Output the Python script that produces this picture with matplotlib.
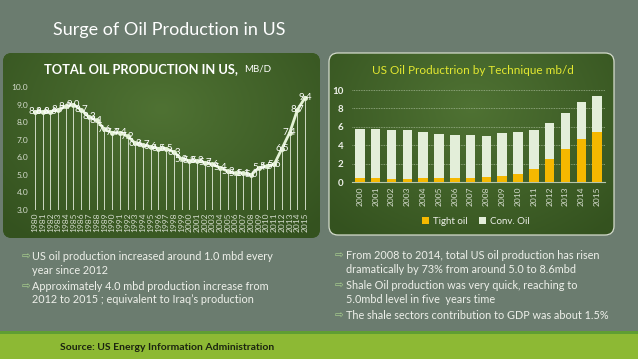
import matplotlib
matplotlib.use("Agg")
import matplotlib.pyplot as plt
import numpy as np
from matplotlib.patches import FancyBboxPatch, Rectangle

plt.rcParams["font.family"] = ["Lato", "DejaVu Sans"]

# total US oil production, mb/d
years_total = [str(y) for y in range(1980, 2016)]
total_prod = [8.6, 8.6, 8.6, 8.7, 8.9, 9.0, 8.7, 8.3, 8.1, 7.6, 7.4, 7.4,
              7.2, 6.8, 6.7, 6.6, 6.5, 6.5, 6.3, 5.9, 5.8, 5.8, 5.7, 5.6,
              5.4, 5.2, 5.1, 5.1, 5.0, 5.4, 5.5, 5.6, 6.5, 7.4, 8.7, 9.4]

# production by technique, mb/d
years_tech = [str(y) for y in range(2000, 2016)]
tight_oil = [0.4, 0.4, 0.35, 0.35, 0.4, 0.4, 0.4, 0.45, 0.55, 0.65, 0.85,
             1.4, 2.5, 3.6, 4.7, 5.4]
conv_oil = [5.4, 5.35, 5.35, 5.25, 5.05, 4.8, 4.7, 4.65, 4.45, 4.7, 4.6,
            4.2, 3.95, 3.85, 3.95, 4.0]

left_bullets = ["US oil production increased around 1.0 mbd every\nyear since 2012",
                "Approximately 4.0 mbd production increase from\n2012 to 2015 ; equivalent to Iraq\u2019s production"]
right_bullets = ["From 2008 to 2014, total US oil production has risen\ndramatically by 73% from around 5.0 to 8.6mbd",
                 "Shale Oil production was very quick, reaching to\n5.0mbd level in five  years time",
                 "The shale sectors contribution to GDP was about 1.5%"]

W, H = 638, 359
fig = plt.figure(figsize=(W / 100, H / 100), dpi=100)
fig.patch.set_facecolor("#6b7c6f")

# background layer in pixel coordinates
bg = fig.add_axes([0, 0, 1, 1], zorder=0)
bg.set_xlim(0, W)
bg.set_ylim(H, 0)
bg.axis("off")


def panel(x0, y0, x1, y1, edge=None):
    box = FancyBboxPatch((x0, y0), x1 - x0, y1 - y0,
                         boxstyle="round,pad=0,rounding_size=9",
                         facecolor="#3c5b25", edgecolor="none", lw=0)
    bg.add_patch(box)
    yy, xx = np.mgrid[0:1:100j, 0:1:160j]
    r = np.sqrt(((xx - 0.5) / 0.7) ** 2 + ((yy - 0.3) / 0.9) ** 2)
    r = np.clip(r, 0, 1)[..., None]
    c_in = np.array([0x4f, 0x72, 0x33]) / 255
    c_out = np.array([0x34, 0x52, 0x1f]) / 255
    img = c_in * (1 - r) + c_out * r
    im = bg.imshow(img, extent=(x0, x1, y1, y0), aspect="auto", zorder=1)
    im.set_clip_path(box)
    if edge:
        box2 = FancyBboxPatch((x0, y0), x1 - x0, y1 - y0,
                              boxstyle="round,pad=0,rounding_size=9",
                              facecolor="none", edgecolor=edge, lw=0.9, zorder=2)
        bg.add_patch(box2)


panel(3, 53, 320, 238)
panel(329, 53, 614, 235, edge="#d5dccd")

# bottom strip
bg.add_patch(Rectangle((0, 331), W, 3, facecolor="#5f9e33", lw=0, zorder=1))
bg.add_patch(Rectangle((0, 334), W, 25, facecolor="#8db934", lw=0, zorder=1))
bg.text(60, 348, "Source: US Energy Information Administration", fontsize=7.5,
        fontweight="bold", color="#1b2410", va="center", zorder=3)

bg.text(53, 30, "Surge of Oil Production in US", fontsize=13, color="white",
        va="center", zorder=3)

# bullets
arrow_col = "#a9d08e"
text_col = "#eef0ea"
y = 251
for b in left_bullets:
    bg.text(22, y + 1, "\u21e8", fontsize=7.5, color=arrow_col, va="top",
            family="DejaVu Sans", zorder=3)
    bg.text(32, y, b, fontsize=7.8, color=text_col, va="top",
            linespacing=1.3, zorder=3)
    y += 29.5
y = 250
for b in right_bullets:
    bg.text(335, y + 1, "\u21e8", fontsize=7.5, color=arrow_col, va="top",
            family="DejaVu Sans", zorder=3)
    bg.text(346, y, b, fontsize=7.8, color=text_col, va="top",
            linespacing=1.3, zorder=3)
    y += 30 if "\n" in b else 15

# left chart: total production
ax1 = fig.add_axes([31 / W, 1 - 210 / H, 278 / W, 123 / H], zorder=2)
ax1.patch.set_alpha(0)
x1 = np.arange(len(years_total))
ax1.vlines(x1, 3.0, total_prod, color="#e8f0e0", lw=0.7, alpha=0.85)
ax1.plot(x1, total_prod, color="#e4f2d6", lw=2, marker="o", ms=2.5,
         mfc="#e4f2d6", mec="#e4f2d6")
for xi, v in zip(x1, total_prod):
    ax1.text(xi, v, f"{v:.1f}", ha="center", va="center", fontsize=7,
             color="white")
ax1.set_xlim(-0.5, len(years_total) - 0.5)
ax1.set_ylim(3.0, 10.0)
ax1.set_yticks(np.arange(3, 10.5, 1.0))
ax1.set_yticklabels([f"{v:.1f}" for v in np.arange(3, 10.5, 1.0)])
ax1.set_xticks(x1)
ax1.set_xticklabels(years_total, rotation=90)
ax1.tick_params(axis="both", length=0, colors="#d5dccd", labelsize=6, pad=2)
for s in ax1.spines.values():
    s.set_visible(False)
bg.text(238, 69, "TOTAL OIL PRODUCTION IN US,", fontsize=9.3, fontweight="bold",
        color="white", ha="right", va="center", zorder=3)
bg.text(244, 69.5, "MB/D", fontsize=7, color="white", ha="left", va="center",
        zorder=3)

# right chart: by technique
ax2 = fig.add_axes([352 / W, 1 - 182 / H, 253 / W, 92 / H], zorder=2)
ax2.patch.set_alpha(0)
x2 = np.arange(len(years_tech))
ax2.bar(x2, tight_oil, width=0.6, color="#f5b800", label="Tight oil", zorder=3)
ax2.bar(x2, conv_oil, width=0.6, bottom=tight_oil, color="#e3eed9",
        label="Conv. Oil", zorder=3)
ax2.set_xlim(-0.5, len(years_tech) - 0.5)
ax2.set_ylim(0, 10)
ax2.set_yticks(range(0, 11, 2))
ax2.set_xticks(x2)
ax2.set_xticklabels(years_tech, rotation=90)
ax2.grid(axis="y", color="#9fb38f", lw=0.6, ls=(0, (1, 1)), zorder=0)
ax2.tick_params(axis="y", length=0, colors="#eef0ea", labelsize=7, pad=6)
ax2.tick_params(axis="x", length=0, colors="#d5dccd", labelsize=6, pad=3)
for lab in ax2.get_yticklabels():
    lab.set_fontweight("bold")
for s in ["top", "right", "left"]:
    ax2.spines[s].set_visible(False)
ax2.spines["bottom"].set_color("#b8c6ad")
ax2.spines["bottom"].set_linewidth(0.8)
leg = ax2.legend(loc="center", bbox_to_anchor=(0.49, -0.425), ncol=2, frameon=False,
                 fontsize=7, handlelength=0.7, handleheight=0.7, handletextpad=0.4,
                 columnspacing=1.2, labelcolor="#eef0ea")
bg.text(473, 70, "US Oil Productrion by Technique mb/d", fontsize=8.5,
        color="#e3e830", ha="center", va="center", zorder=3)

fig.savefig("out.png", dpi=100, facecolor=fig.get_facecolor())
